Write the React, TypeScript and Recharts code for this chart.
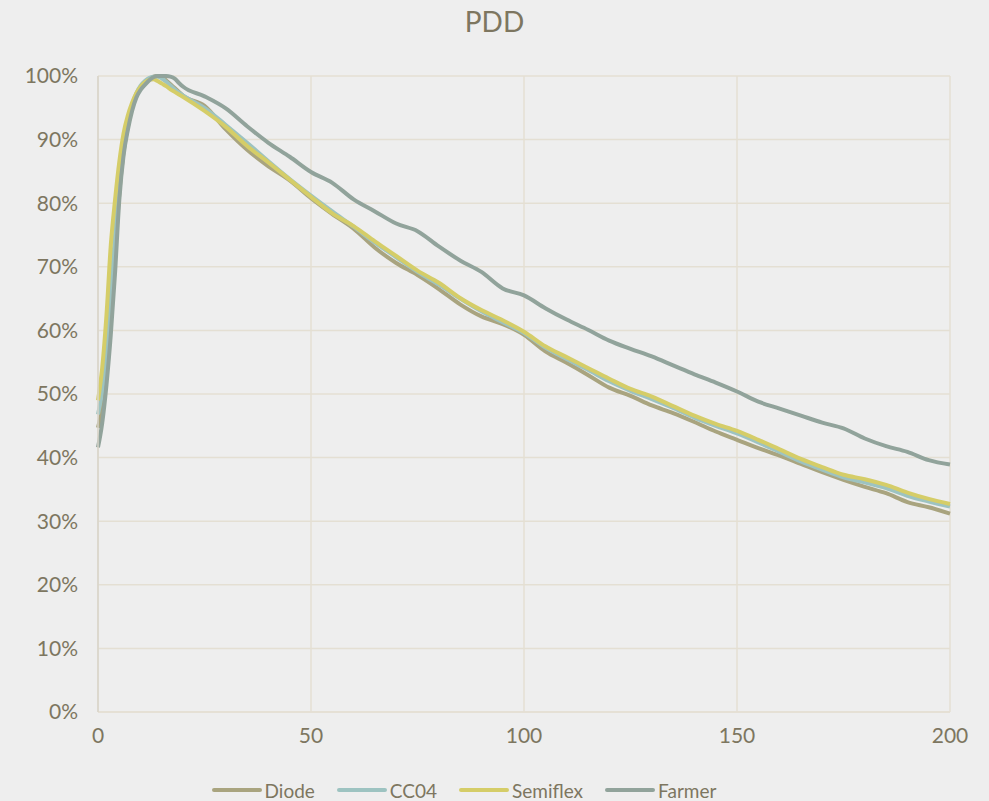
import React from "react";
import { LineChart, Line, XAxis, YAxis, CartesianGrid, Legend } from "recharts";

// depth (x) in mm
const depth = [
  0, 1, 2, 3, 4, 5, 6, 7, 8, 9, 10, 11, 12, 13, 14, 15, 16, 17, 18, 19, 20,
  25, 30, 35, 40, 45, 50, 55, 60, 65, 70, 75, 80, 85, 90, 95, 100,
  105, 110, 115, 120, 125, 130, 135, 140, 145, 150, 155, 160, 165, 170, 175, 180, 185, 190, 195, 200,
];

const diode = [
  44.7, 48, 54, 62.5, 72, 81.5, 88, 92, 95, 97, 98.2, 99, 99.5, 99.9, 100, 99.8, 99.3, 98.7, 98.1, 97.5, 96.9,
  95.3, 91.6, 88.4, 85.8, 83.6, 80.8, 78.3, 76.0, 73.0, 70.6, 68.7, 66.5, 64.1, 62.2, 61.0, 59.3,
  56.7, 54.9, 53.0, 51.0, 49.7, 48.2, 47.0, 45.6, 44.1, 42.8, 41.5, 40.3, 39.0, 37.7, 36.5, 35.4, 34.4, 33.0, 32.2, 31.2,
];

const cc04 = [
  46.8, 50.5, 57, 66, 75, 83, 89, 92.8, 95.4, 97.3, 98.5, 99.2, 99.7, 99.9, 99.9, 99.6, 99.1, 98.5, 97.9, 97.4, 96.9,
  95.0, 92.3, 89.5, 86.6, 83.8, 81.2, 78.7, 76.3, 73.8, 71.5, 69.2, 67.2, 65.0, 63.0, 61.3, 59.6,
  57.3, 55.5, 53.8, 52.0, 50.5, 49.2, 47.8, 46.3, 45.0, 43.8, 42.4, 40.9, 39.4, 38.1, 36.9, 36.1, 35.2, 34.0, 33.1, 32.3,
];

const semiflex = [
  49, 54.2, 62.5, 73.4, 80.5, 86.5, 91.0, 93.8, 95.8, 97.3, 98.3, 99.0, 99.4, 99.5, 99.2, 98.8, 98.4, 97.9, 97.5, 97.1, 96.7,
  94.5, 92.0, 89.0, 86.4, 83.7, 81.0, 78.4, 76.4, 74.0, 71.7, 69.4, 67.5, 65.1, 63.2, 61.6, 59.8,
  57.5, 55.8, 54.1, 52.4, 50.8, 49.6, 48.1, 46.6, 45.3, 44.2, 42.8, 41.3, 39.8, 38.5, 37.3, 36.6, 35.7, 34.5, 33.5, 32.7,
];

const farmer = [
  41.6, 45.5, 51.5, 59.3, 69, 80.5, 87.5, 91.5, 94.5, 96.6, 97.8, 98.6, 99.3, 99.8, 100, 100, 100, 99.9, 99.6, 98.9, 98.3,
  96.8, 94.9, 92.1, 89.5, 87.3, 84.9, 83.2, 80.6, 78.7, 76.8, 75.6, 73.2, 71.0, 69.2, 66.6, 65.5,
  63.5, 61.7, 60.1, 58.4, 57.1, 55.9, 54.5, 53.1, 51.8, 50.4, 48.8, 47.7, 46.6, 45.5, 44.6, 43.0, 41.8, 40.9, 39.6, 38.9,
];

const xTicks = [0, 50, 100, 150, 200];
const yTicks = [0, 10, 20, 30, 40, 50, 60, 70, 80, 90, 100];

const seriesInfo = [
  { key: "Diode", color: "#a9a47f" },
  { key: "CC04", color: "#9dc3c1" },
  { key: "Semiflex", color: "#d5cd68" },
  { key: "Farmer", color: "#91a39b" },
];

const data = depth.map((d, i) => ({
  depth: d,
  Diode: diode[i],
  CC04: cc04[i],
  Semiflex: semiflex[i],
  Farmer: farmer[i],
}));

const textColor = "#7d7660";
const font = "Lato, 'Open Sans', sans-serif";

function LegendContent() {
  return (
    <div style={{ height: 49, paddingTop: 28, boxSizing: "border-box", display: "flex", justifyContent: "center", fontFamily: font, fontSize: 19, color: textColor }}>
      {seriesInfo.map((s) => (
        <div key={s.key} style={{ display: "flex", alignItems: "center", marginRight: 22, height: 20 }}>
          <svg width={50} height={6} style={{ marginRight: 3 }}>
            <line x1={2} y1={3} x2={48} y2={3} stroke={s.color} strokeWidth={4} strokeLinecap="round" />
          </svg>
          <span>{s.key}</span>
        </div>
      ))}
    </div>
  );
}

export default function App() {
  return (
    <div style={{ position: "absolute", left: 0, top: 0, width: 989, height: 801, background: "#eeeeee" }}>
      <div style={{ position: "absolute", top: 4, width: 989, textAlign: "center", fontFamily: font, fontSize: 28, color: textColor }}>
        PDD
      </div>
      <LineChart width={989} height={801} data={data} margin={{ top: 76, right: 39, left: 0, bottom: 0 }}>
        <CartesianGrid stroke="#e4dfd3" strokeWidth={1.5} />
        <XAxis
          dataKey="depth"
          type="number"
          domain={[0, 200]}
          ticks={xTicks}
          height={40}
          tickLine={false}
          tickSize={0}
          tickMargin={16}
          axisLine={{ stroke: "#e4dfd3", strokeWidth: 1.5 }}
          tick={{ fill: textColor, fontSize: 21, fontFamily: font }}
        />
        <YAxis
          type="number"
          domain={[0, 100]}
          ticks={yTicks}
          width={98}
          tickLine={false}
          tickSize={0}
          tickMargin={20}
          axisLine={{ stroke: "#d8d4ca", strokeWidth: 1.5 }}
          tickFormatter={(v) => `${v}%`}
          tick={{ fill: textColor, fontSize: 21, fontFamily: font }}
        />
        <Legend verticalAlign="bottom" content={() => <LegendContent />} />
        {seriesInfo.map((s) => (
          <Line
            key={s.key}
            type="monotone"
            dataKey={s.key}
            stroke={s.color}
            strokeWidth={4}
            dot={false}
            isAnimationActive={false}
          />
        ))}
      </LineChart>
    </div>
  );
}
